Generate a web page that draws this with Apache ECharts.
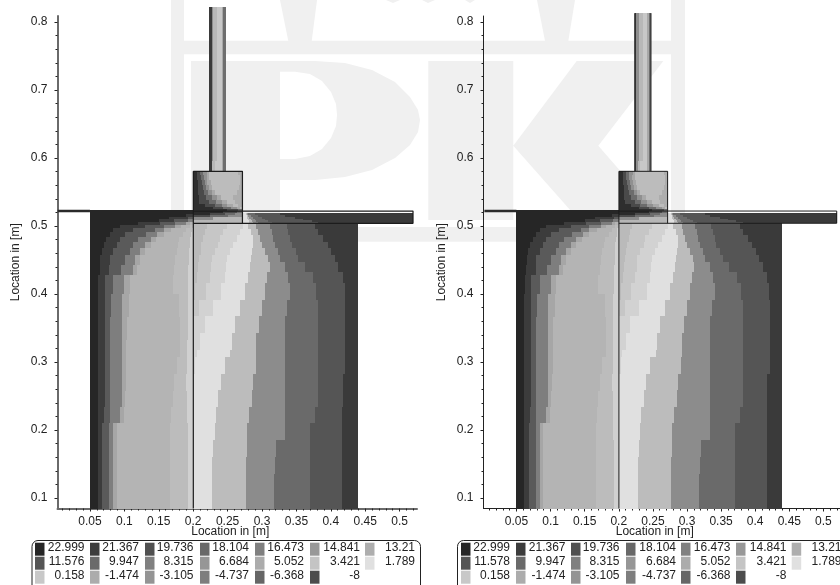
<!DOCTYPE html>
<html><head><meta charset="utf-8">
<script src="https://cdn.jsdelivr.net/npm/echarts@6/dist/echarts.min.js"></script>
<style>html,body{margin:0;padding:0;background:#fff}#c{width:840px;height:585px}</style>
</head><body><div id="c"></div>
<script>
// ---- axis ticks ----
const xMajor = [0.05,0.1,0.15,0.2,0.25,0.3,0.35,0.4,0.45,0.5];
const xMinor = [0.01,0.02,0.03,0.04,0.06,0.07,0.08,0.09,0.11,0.12,0.13,0.14,0.16,0.17,0.18,0.19,0.21,0.22,0.23,0.24,0.26,0.27,0.28,0.29,0.31,0.32,0.33,0.34,0.36,0.37,0.38,0.39,0.41,0.42,0.43,0.44,0.46,0.47,0.48,0.49,0.51,0.52];
const yMajor = [0.1,0.2,0.3,0.4,0.5,0.6,0.7,0.8];
const yMinor = [0.12,0.14,0.16,0.18,0.22,0.24,0.26,0.28,0.32,0.34,0.36,0.38,0.42,0.44,0.46,0.48,0.52,0.54,0.56,0.58,0.62,0.64,0.66,0.68,0.72,0.74,0.76,0.78];

// ---- legend values ----
const legendLeft  = ["22.999","21.367","19.736","18.104","16.473","14.841","13.21","11.576","9.947","8.315","6.684","5.052","3.421","1.789","0.158","-1.474","-3.105","-4.737","-6.368","-8"];
const legendRight = ["22.999","21.367","19.736","18.104","16.473","14.841","13.21","11.578","9.947","8.315","6.684","5.052","3.421","1.789","0.158","-1.474","-3.105","-4.737","-6.368","-8"];
const legendGrays = ["#262626","#3c3c3c","#505050","#686868","#808080","#989898","#aeaeae","#555555","#6a6a6a","#808080","#969696","#acacac","#c4c4c4","#e0e0e0","#c8c8c8","#acacac","#949494","#7e7e7e","#666666","#4c4c4c"];

// ---- field: each row = [top of row in mm, band edges in mm ...]; a row lasts until the next row ----
const westRows = [
 [524,200,200,200,200,200,200,200],[517,190,200,200,200,200,200,200],[513.7,165,193,200,200,200,200,200],
 [510,150,172,192,200,200,200,200],[506.4,120,152,174,190,195,200,200],[501.5,94,130,157,174,182,195,200],
 [496.6,84,113,144,157,168,190,198],[491.7,79,101,132,147,157,185,197],[484.4,74,94,120,138,146,180,196],
 [477,70,89,113,130,138,178,195],[467.2,67,84,108,123,130,176,194],[457.4,65,79,101,115,122,174,194],
 [442.7,64,78,95,112,118,172,193],[428,62,72,84,100,108,170,193],[400,61,72,80,96,106,180,192],
 [366,61,72,79,96,104,181,192],[332,61,72,79,96,103,181,191],[308,61,72,79,96,103,176,191],
 [283,61,72,79,96,102,172,190],[258,61,72,79,96,101,170,191],[234,61,70,79,94,99,168,191],
 [210,61,68,78,84,89,166,192],[185,61,68,78,84,89,166,193]
];
const eastRows = [
 [504,219.5,248.6,272.8,280,292,311.6,335.8,377],[496,217,244,268,283.5,294.6,314,338,381.8],
 [487,214.7,239,263,286.4,297,316.4,340.6,389],[477,212,236.5,258,286.4,299.5,318.8,343,396],
 [467,211,231.6,253.4,285,304,323.7,349,401],[457,209,226.8,248.6,284,309,326,352.8,406],
 [447,207,226,247,283,311,333,362,411],[433,206,224,246,280,307,338,374,418],
 [415.7,203,218,241,275,304,341,379,420.6],[391,200.2,209,229,268,300,336,382,421],
 [367,200.2,200.2,217,261,295,334,382,421],[342,200.2,200.2,210,256,292,333,382,421],
 [318,200.2,200.2,205,254,292,333,382,421],[308,200.2,200.2,203,246,291,333,382,421],
 [283,200.2,200.2,201,240,287,333,382,418],[259,200.2,200.2,200.2,236.5,285,333,382,418],
 [234,200.2,200.2,200.2,233,281,333,377,417],[210,200.2,200.2,200.2,231.7,278.7,333,370,417],
 [185,200.2,200.2,200.2,229,277.7,321,370,417],[161,200.2,200.2,200.2,228,277,319,370,417],
 [136,200.2,200.2,200.2,228,277,317.5,370,417]
];
const plateRows = [
 [519,276.7,278,280,290,326],[516,277.7,279.6,283.5,294.6,333.4],[513.7,278.6,281.5,286.4,299.5,348],
 [511,279.6,283.5,289.3,304.3,360],[508.8,280.6,285.4,291.2,309,372],[506.4,281.5,287.4,293.7,314,382]
];
const jointRows = [
 [522.5,243.8,263.2,271.4,271.4],[518.6,224.4,246.2,260.8,271.4],[516,200.2,224.4,251,271.4],
 [513.7,200.2,200.2,200.2,229.3],[508.8,200.2,200.2,200.2,200.2]
];
const boxRows = [
 [580.4,206,210,214.8,220.6,223.5,265.6],[575,206,210.9,215.7,219.6,223.5,268],
 [567.6,206.5,212.3,216.7,220.6,225.4,268],[560,207,213.8,218.6,222.5,226.9,267],
 [553,207.5,215.7,222,226.9,231.7,263.2],[545,208,218.6,226.9,234.1,240,258.4],
 [538,209,223.5,233.2,241.4,248.7,260.8],[533,217.2,231.7,241.4,249.6,258.4,265.6],
 [528,229.3,243.8,254.5,263.2,268,271.4],[525.4,248.7,265.6,271.4,271.4,271.4,271.4]
];
const stemRowsLeft  = [[822,226.9,229.2,235,241.4,243.7,247.2],[595,226.9,228,231.7,241.4,243,247.2]];
const stemRowsRight = [[813,225.5,229.2,235,241.4,245,247.2],[595,225.5,228,231.7,241.4,245,247.2]];

// ---- structure outlines in mm ----
const outlineLeft = [
 [[200.2,84.6],[200.2,580.4]],
 [[200.2,580.4],[271.6,580.4],[271.6,504]],
 [[200.2,522],[519.5,522],[519.5,504],[200.2,504]]
];
const outlineRight = [
 [[200.2,84.6],[200.2,580.4]],
 [[200.2,580.4],[271.6,580.4],[271.6,504]],
 [[200.2,522],[519.5,522],[519.5,504],[200.2,504]],
 [[223.4,580.4],[223.4,813]],[[247.2,580.4],[247.2,813]]
];
const wallStub = [[3,522],[50,522]];

// ---- band palettes ----
const westGrays  = ["#262626","#3c3c3c","#5a5a5a","#7e7e7e","#a6a6a6","#b4b4b4","#bcbcbc","#d0d0d0"];
const eastGrays  = ["#bababa","#c6c6c6","#d2d2d2","#e0e0e0","#bcbcbc","#8c8c8c","#6a6a6a","#555555","#3a3a3a"];
const plateGrays = ["#e0e0e0","#bcbcbc","#8c8c8c","#6a6a6a","#555555","#3a3a3a"];
const jointGrays = ["#2a2a2a","#4a4a4a","#6c6c6c","#8c8c8c","#b6b6b6"];
const boxGrays   = ["#2e2e2e","#4a4a4a","#6c6c6c","#909090","#a8a8a8","#bcbcbc","#adadad"];
const stemGrays  = ["#3a3a3a","#8e8e8e","#b8b8b8","#c8c8c8","#a8a8a8","#6e6e6e"];

function addCells(out, rows, grays, x0, xEnd, yEnd){
  rows.forEach((row,i)=>{
    const top=row[0], bottom=i+1<rows.length?rows[i+1][0]:yEnd;
    let prev=x0;
    for(let j=1;j<=grays.length;j++){
      const e = j<row.length?row[j]:xEnd;
      if(e>prev){ out.push({value:[prev/1000,e/1000,bottom/1000,top/1000],c:grays[j-1]}); prev=e; }
    }
  });
}
function fieldCells(stem){
  const out=[];
  addCells(out,westRows,westGrays,50,200.2,84.6);
  addCells(out,eastRows,eastGrays,200.2,440,84.6);
  addCells(out,plateRows,plateGrays,271.6,519.5,504);
  addCells(out,jointRows,jointGrays,200.2,271.6,504);
  addCells(out,boxRows,boxGrays,200.2,271.6,522.5);
  addCells(out,stem,stemGrays,223.4,247.2,580.4);
  return out;
}
function fieldSeries(idx,stem){
  const cells=fieldCells(stem);
  return {type:'custom',xAxisIndex:idx*2,yAxisIndex:idx*2,z:2,silent:true,clip:false,
    encode:{x:[0,1],y:[2,3]},
    data:cells,
    renderItem:(p,api)=>{
      const a=api.coord([api.value(0),api.value(3)]), b=api.coord([api.value(1),api.value(2)]);
      const x0=Math.round(a[0]),x1=Math.round(b[0]),y0=Math.round(a[1]),y1=Math.round(b[1]);
      return {type:'rect',shape:{x:x0,y:y0,width:x1-x0,height:y1-y0},style:{fill:cells[p.dataIndex].c}};
    }};
}
function lineSeries(idx,pts,w,col){
  return {type:'line',xAxisIndex:idx*2,yAxisIndex:idx*2,z:3,symbol:'none',silent:true,clip:false,
    lineStyle:{color:col,width:w},data:pts.map(p=>[p[0]/1000,p[1]/1000])};
}
const font='"Liberation Sans",Arial,sans-serif';
const grids=[{left:57.5,top:16,width:359.5,height:492.5},{left:483.5,top:16,width:359.5,height:492.5}];
const xRange=[[0.0028,0.5253],[0.0017,0.5243]], yRange=[0.0846,0.8088];
const axisCols=['#6a6a6a','#222222'], axisW=[2,1];
const xAxes=[],yAxes=[];
[0,1].forEach(i=>{
  const line={show:true,onZero:false,lineStyle:{color:axisCols[i],width:axisW[i]}};
  xAxes.push({type:'value',gridIndex:i,min:xRange[i][0],max:xRange[i][1],position:'bottom',
    name:'Location in [m]',nameLocation:'middle',nameGap:17,nameMoveOverlap:false,
    nameTextStyle:{fontFamily:font,fontSize:12,color:'#222',padding:[0,14,0,0]},
    axisLine:line,splitLine:{show:false},
    axisTick:{show:true,length:3,inside:false,customValues:xMajor,lineStyle:{color:'#222',width:1}},
    axisLabel:{show:true,margin:7.5,fontFamily:font,fontSize:12,color:'#222',customValues:xMajor,formatter:v=>String(v),hideOverlap:false,showMinLabel:true,showMaxLabel:true}});
  xAxes.push({type:'value',gridIndex:i,min:xRange[i][0],max:xRange[i][1],position:'bottom',
    axisLine:{show:false},splitLine:{show:false},axisLabel:{show:false},
    axisTick:{show:true,length:2,customValues:xMinor,lineStyle:{color:'#222',width:1}}});
  yAxes.push({type:'value',gridIndex:i,min:yRange[0],max:yRange[1],position:'left',
    name:'Location in [m]',nameLocation:'middle',nameGap:36,nameRotate:90,nameMoveOverlap:false,
    nameTextStyle:{fontFamily:font,fontSize:12,color:'#222'},
    axisLine:line,splitLine:{show:false},
    axisTick:{show:true,length:3,customValues:yMajor,lineStyle:{color:'#222',width:1}},
    axisLabel:{show:true,margin:10,fontFamily:font,fontSize:12,color:'#222',customValues:yMajor,formatter:v=>String(v),hideOverlap:false,showMinLabel:true,showMaxLabel:true}});
  yAxes.push({type:'value',gridIndex:i,min:yRange[0],max:yRange[1],position:'left',
    axisLine:{show:false},splitLine:{show:false},axisLabel:{show:false},
    axisTick:{show:true,length:2,customValues:yMinor,lineStyle:{color:'#222',width:1}}});
});

// ---- backdrop logo and legends ----
const wm='#f0f0f0';
const g=[];
function poly(pts,fill){g.push({type:'polygon',z:-10,silent:true,shape:{points:pts},style:{fill:fill||wm}});}
poly([[171,0],[184,0],[184,241],[171,241]]);
poly([[671,0],[685,0],[685,241],[671,241]]);
poly([[171,40.7],[685,40.7],[685,54.3],[171,54.3]]);
poly([[171,227],[685,227],[685,241.7],[171,241.7]]);
poly([[280,0],[317,0],[311.7,41],[288.3,41]]);
poly([[537,0],[575,0],[568.3,41],[545,41]]);
poly([[386,0],[400,0],[393,3]]);poly([[422,0],[435,0],[428,3]]);poly([[465,0],[475,0],[470,3]]);
poly([[191,61],[315,61],[345,63],[372,70],[395,82],[410,97],[418,110],[420,120],[418,132],[410,145],[395,158],[372,170],[345,177],[315,180],[280,180],[280,220],[191,220]]);
poly([[280,71.7],[295,71.7],[310,74],[322,81],[331,92],[336,104],[337,115],[336,126],[331,138],[322,149],[310,156],[295,159],[280,159]],'#fff');
poly([[428.3,61],[513.3,61],[513.3,145.7],[576.7,61],[663.3,61],[598.3,145.7],[663,220],[579,220],[513.3,145.7],[513.3,220],[428.3,220]]);

const swatchX=[[35,90,145,200,255,310,365],[461,516,571,626,681,736,791.7]];
const textRight=[[84.5,139,193.5,249,304,360,415],[510,565.5,619.5,676,730.5,786.5,841.5]];
const rowY=[[542.7,547.7],[556.7,561.7],[570.7,576]];
[legendLeft,legendRight].forEach((labels,k)=>{
  g.push({type:'rect',z:5,silent:true,shape:{x:k?457.5:32,y:540.5,width:k?420:388.5,height:60,r:6},style:{fill:'none',stroke:'#222',lineWidth:1}});
  labels.forEach((t,i)=>{
    const r=Math.floor(i/7),c=i%7;
    g.push({type:'rect',z:5,silent:true,shape:{x:swatchX[k][c],y:rowY[r][0],width:9.5,height:13},style:{fill:legendGrays[i]}});
    g.push({type:'text',z:5,silent:true,x:textRight[k][c],y:rowY[r][1],style:{text:t,fill:'#222',font:'12px '+font,textAlign:'right',textVerticalAlign:'middle'}});
  });
});

const series=[
  fieldSeries(0,stemRowsLeft),fieldSeries(1,stemRowsRight),
  ...outlineLeft.map(p=>lineSeries(0,p,1.2,'#1c1c1c')),
  ...outlineRight.map(p=>lineSeries(1,p,1,'#1c1c1c')),
  lineSeries(0,wallStub,2.5,'#2a2a2a'),lineSeries(1,wallStub,2.5,'#2a2a2a')
];
const chart=echarts.init(document.getElementById('c'),null,{renderer:'canvas'});
chart.setOption({animation:false,backgroundColor:'#fff',grid:grids,xAxis:xAxes,yAxis:yAxes,series,graphic:{elements:g}});
</script></body></html>
